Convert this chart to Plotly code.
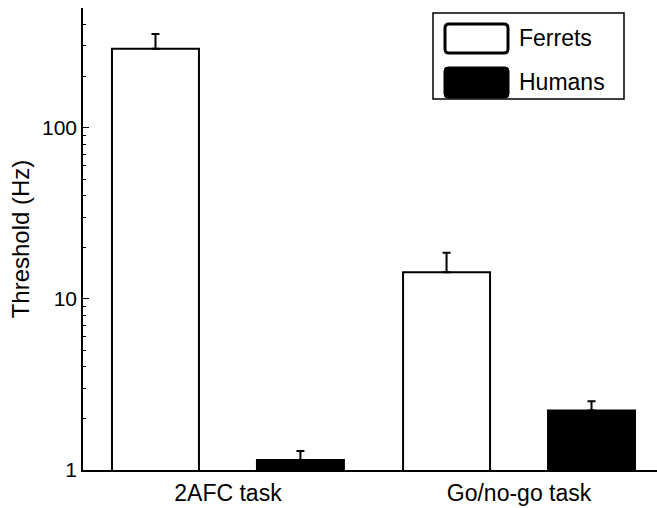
import plotly.graph_objects as go

# ---- data ----
tasks = ["2AFC task", "Go/no-go task"]
series_names = ["Ferrets", "Humans"]
ferrets_vals = [289, 14.3]
ferrets_err_top = [353, 18.6]
humans_vals = [1.145, 2.23]
humans_err_top = [1.29, 2.52]
y_major_ticks = [1, 10, 100]
y_minor_ticks = [2, 3, 4, 5, 6, 7, 8, 9, 20, 30, 40, 50, 60, 70, 80, 90, 200, 300, 400, 500]

FONT = "Liberation Sans, Arial, Helvetica, sans-serif"

fig = go.Figure()
fig.add_trace(go.Bar(
    x=tasks, y=ferrets_vals, name=series_names[0],
    marker=dict(color="white", line=dict(color="black", width=2)),
    error_y=dict(type="data", symmetric=False,
                 array=[t - v for t, v in zip(ferrets_err_top, ferrets_vals)],
                 arrayminus=[0, 0], color="black", thickness=2, width=4),
    showlegend=False,
))
fig.add_trace(go.Bar(
    x=tasks, y=humans_vals, name=series_names[1],
    marker=dict(color="black", line=dict(color="black", width=2)),
    error_y=dict(type="data", symmetric=False,
                 array=[t - v for t, v in zip(humans_err_top, humans_vals)],
                 arrayminus=[0, 0], color="black", thickness=2, width=4),
    showlegend=False,
))

W, H = 657, 508
L, R, T, B = 83, 0, 8, 38
pw, ph = W - L - R, H - T - B


def px(x):
    return (x - L) / pw


def py(y):
    return (H - B - y) / ph


def rrect(x0, y0, x1, y1, r=4):
    rx, ry = r / pw, r / ph
    X0, X1 = px(x0), px(x1)
    Y0, Y1 = py(y1), py(y0)  # bottom, top in paper
    return (f"M{X0+rx},{Y0} L{X1-rx},{Y0} Q{X1},{Y0} {X1},{Y0+ry} "
            f"L{X1},{Y1-ry} Q{X1},{Y1} {X1-rx},{Y1} L{X0+rx},{Y1} "
            f"Q{X0},{Y1} {X0},{Y1-ry} L{X0},{Y0+ry} Q{X0},{Y0} {X0+rx},{Y0} Z")


shapes = [
    dict(type="rect", xref="paper", yref="paper", x0=px(433), x1=px(624),
         y0=py(99), y1=py(13), line=dict(color="black", width=1.5), fillcolor="white", layer="above"),
    dict(type="path", xref="paper", yref="paper", path=rrect(445, 24, 508, 53),
         line=dict(color="black", width=3), fillcolor="white", layer="above"),
    dict(type="path", xref="paper", yref="paper", path=rrect(444, 67, 509, 98),
         line=dict(color="black", width=1), fillcolor="black", layer="above"),
]
annotations = [
    dict(xref="paper", yref="paper", x=px(517), y=py(38), text=series_names[0],
         showarrow=False, xanchor="left", yanchor="middle", font=dict(size=23, color="black", family=FONT)),
    dict(xref="paper", yref="paper", x=px(517), y=py(82), text=series_names[1],
         showarrow=False, xanchor="left", yanchor="middle", font=dict(size=23, color="black", family=FONT)),
]

fig.update_layout(
    width=W, height=H,
    margin=dict(l=L, r=R, t=T, b=B, pad=0),
    paper_bgcolor="white", plot_bgcolor="white",
    barmode="group", bargap=0.004, bargroupgap=0.4,
    font=dict(family=FONT, color="black"),
    shapes=shapes, annotations=annotations,
    showlegend=False,
)
fig.update_xaxes(
    range=[-0.498, 1.474], showline=True, linecolor="black", linewidth=1.5,
    ticks="", showgrid=False, zeroline=False,
    tickfont=dict(size=23, color="black", family=FONT), ticklabelstandoff=2,
)
fig.update_yaxes(
    type="log", range=[0, 2.69897], showline=True, linecolor="black", linewidth=1.5,
    showgrid=False, zeroline=False,
    tickmode="array", tickvals=y_major_ticks, ticktext=[str(v) for v in y_major_ticks],
    ticks="inside", ticklen=6, tickwidth=1, tickcolor="black",
    minor=dict(tickmode="array", tickvals=y_minor_ticks, ticks="inside", ticklen=3,
               tickwidth=1, tickcolor="black", showgrid=False),
    tickfont=dict(size=21, color="black", family=FONT),
    title=dict(text="Threshold (Hz)", font=dict(size=24, color="black", family=FONT), standoff=6),
)

fig.write_html("out.html")
